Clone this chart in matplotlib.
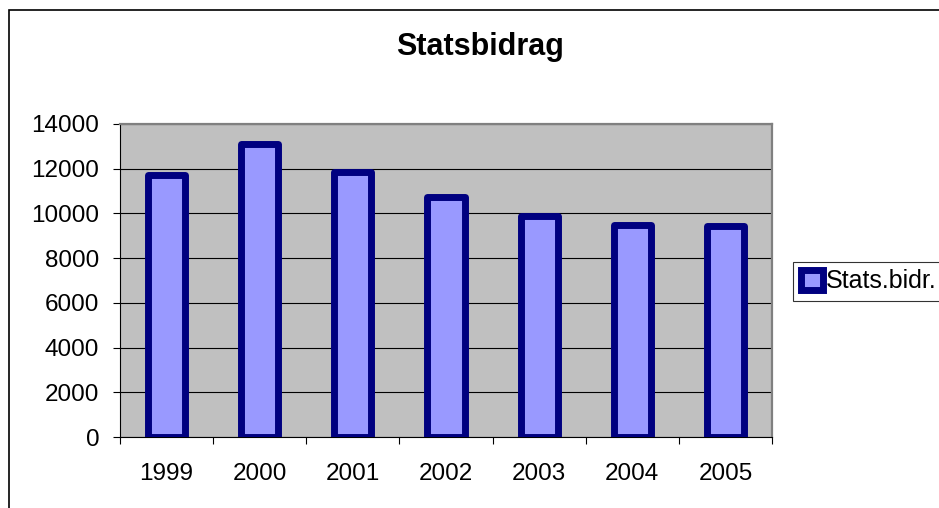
#!/usr/bin/env python3
"""
Statsbidrag bar chart (Excel style), saved as out.png
"""

import matplotlib
matplotlib.use('Agg')  # Non-interactive backend
import matplotlib.pyplot as plt
from matplotlib.patches import Rectangle

# Chart data
years = ['1999', '2000', '2001', '2002', '2003', '2004', '2005']
stats_bidr = [11700, 13100, 11870, 10720, 9880, 9480, 9440]
y_ticks = [0, 2000, 4000, 6000, 8000, 10000, 12000, 14000]

TITLE = 'Statsbidrag'
SERIES_LABEL = 'Stats.bidr.'

W, H, DPI = 939, 508, 100


def px_x(x):
    return x / W


def px_y(y):
    return 1 - y / H


def main():
    plt.rcParams['font.family'] = ['Liberation Sans', 'DejaVu Sans']

    fig = plt.figure(figsize=(W / DPI, H / DPI), dpi=DPI)

    # Chart area border (runs off the right and bottom edge)
    fig.patches.append(Rectangle((px_x(9), -0.05), 1.1, px_y(10) + 0.05,
                                 transform=fig.transFigure, fill=False,
                                 edgecolor='black', linewidth=1.2))

    # Plot area in pixels: x 120..772, y 124..437
    ax = fig.add_axes([px_x(120), px_y(437), px_x(772) - px_x(120), px_y(124) - px_y(437)])
    ax.set_facecolor('#C0C0C0')

    x = list(range(len(years)))
    bars = ax.bar(x, stats_bidr, width=0.4, color='#9999FF', edgecolor='#000080',
                  linewidth=5, joinstyle='round', label=SERIES_LABEL, zorder=3)

    ax.set_xlim(-0.5, len(years) - 0.5)
    ax.set_ylim(0, 14000)

    # y axis
    ax.set_yticks(y_ticks)
    ax.set_yticklabels([str(v) for v in y_ticks])
    ax.tick_params(axis='y', direction='out', length=5, width=0.8, pad=10,
                   labelsize=17.5, color='black')
    ax.grid(True, axis='y', color='black', linewidth=0.8, zorder=1)

    # x axis: ticks between categories, labels at centers
    ax.set_xticks([i - 0.5 for i in range(len(years) + 1)])
    ax.set_xticklabels([])
    ax.set_xticks(x, minor=True)
    ax.set_xticklabels(years, minor=True)
    ax.tick_params(axis='x', which='major', direction='out', length=5, width=0.8)
    ax.tick_params(axis='x', which='minor', length=0, pad=18.5, labelsize=17.5)

    for side in ('top', 'right'):
        ax.spines[side].set_color('#808080')
        ax.spines[side].set_linewidth(1.6)
    for side in ('left', 'bottom'):
        ax.spines[side].set_color('black')
        ax.spines[side].set_linewidth(0.8)
    ax.set_axisbelow(True)

    fig.text(px_x(480), px_y(47), TITLE, ha='center', va='center',
             fontsize=22, fontweight='bold')

    leg = fig.legend(handles=[bars], labels=[SERIES_LABEL], loc='upper left',
                     bbox_to_anchor=(px_x(793), px_y(262)), fontsize=18,
                     frameon=True, fancybox=False, edgecolor='black',
                     handlelength=0.9, handleheight=0.9, handletextpad=0.1,
                     borderpad=0.3, borderaxespad=0)
    leg.get_frame().set_linewidth(0.8)

    fig.savefig('out.png', dpi=DPI)
    plt.close(fig)


if __name__ == '__main__':
    main()
